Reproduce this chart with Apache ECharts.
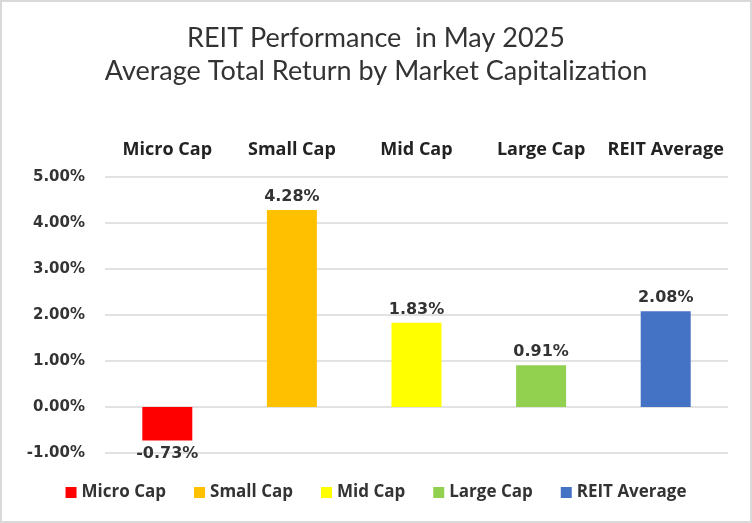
<!DOCTYPE html>
<html><head><meta charset="utf-8">
<script src="https://cdn.jsdelivr.net/npm/echarts@6/dist/echarts.min.js"></script>
<style>
html,body{margin:0;padding:0;background:#fff;}
#c{width:748px;height:519px;border:2px solid #d9d9d9;}
</style></head>
<body><div id="c"></div>
<script>
const categories = ['Micro Cap','Small Cap','Mid Cap','Large Cap','REIT Average'];
const values = [-0.73, 4.28, 1.83, 0.91, 2.08];
const colors = ['#ff0000','#ffc000','#ffff00','#92d050','#4472c4'];
const yTicks = [-1, 0, 1, 2, 3, 4, 5];

const chart = echarts.init(document.getElementById('c'));
const series = categories.map((name, i) => ({
  name: name,
  type: 'bar',
  stack: 'all',
  barWidth: 50,
  itemStyle: { color: colors[i] },
  data: categories.map((_, j) => j === i ? values[i] : null),
  label: {
    show: true,
    position: values[i] < 0 ? 'bottom' : 'top',
    distance: 5,
    formatter: p => p.value.toFixed(2) + '%',
    fontFamily: 'DejaVu Sans',
    fontWeight: 'bold',
    fontSize: 16,
    color: '#333'
  }
}));
chart.setOption({
  animation: false,
  title: {
    text: 'REIT Performance  in May 2025\nAverage Total Return by Market Capitalization',
    left: 'center',
    top: 15,
    textStyle: { fontFamily: 'Lato', fontWeight: 'normal', fontSize: 27, lineHeight: 33, color: '#333' }
  },
  legend: {
    bottom: 15,
    left: 'center',
    icon: 'rect',
    itemWidth: 11,
    itemHeight: 11,
    itemGap: 28,
    textStyle: { fontFamily: 'Open Sans', fontWeight: 'bold', fontSize: 17, color: '#333' },
    data: categories
  },
  grid: { left: 103, right: 22, top: 175, bottom: 68 },
  xAxis: {
    type: 'category',
    position: 'top',
    data: categories,
    axisLine: { show: false },
    axisTick: { show: false },
    axisLabel: { interval: 0, fontFamily: 'Open Sans', fontWeight: 'bold', fontSize: 18, color: '#222', margin: 18 }
  },
  yAxis: {
    type: 'value',
    min: yTicks[0],
    max: yTicks[yTicks.length - 1],
    interval: 1,
    axisLine: { show: false },
    axisTick: { show: false },
    splitLine: { lineStyle: { color: '#d9d9d9', width: 1.5 } },
    axisLabel: { formatter: v => v.toFixed(2) + '%', fontFamily: 'DejaVu Sans', fontWeight: 'bold', fontSize: 15, color: '#333', margin: 20 }
  },
  series: series
});
</script></body></html>
